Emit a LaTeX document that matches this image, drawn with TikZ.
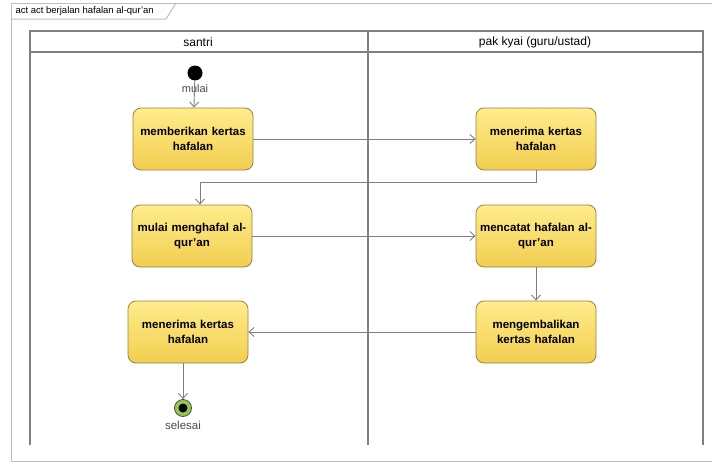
\documentclass[tikz,border=0pt]{standalone}
\usepackage{fontspec}
\setmainfont{Liberation Sans}
\usetikzlibrary{arrows.meta}
\definecolor{garis}{RGB}{128,128,128}
\definecolor{bingkai}{RGB}{190,190,190}
\definecolor{aktline}{RGB}{150,130,70}
\definecolor{akttop}{RGB}{255,236,140}
\definecolor{aktbot}{RGB}{242,206,80}
\definecolor{hijau}{RGB}{150,200,80}

\begin{document}
\begin{tikzpicture}[x=1pt, y=-1pt,
    act/.style={draw=aktline, line width=0.8pt, rounded corners=8pt,
      top color=akttop, bottom color=aktbot, minimum width=120pt,
      minimum height=62pt, text width=118pt, inner xsep=1pt, align=center,
      font=\fontsize{11.5}{15}\selectfont\bfseries},
    flow/.style={draw=garis, line width=0.9pt, -{Straight Barb[length=5pt,width=9pt]}},
    lane/.style={draw=garis, line width=1.2pt}]
    \useasboundingbox (0,0) rectangle (712,463);
    \draw[bingkai, line width=1pt] (712,461) -- (11,461) -- (11,3) -- (712,3);
    \draw[bingkai, line width=1pt] (11,19) -- (166,19) -- (176,3);
    \node[anchor=west, font=\fontsize{9.5}{10}\selectfont] (judul) at (12,11) {act act berjalan hafalan al-qur'an};
    \draw[lane] (30,445) -- (30,31) -- (703,31) -- (703,445);
    \draw[lane] (30,52) -- (703,52);
    \draw[lane] (368,31) -- (368,445);
    \node[font=\fontsize{12}{13}\selectfont] (santri) at (198,42) {santri};
    \node[font=\fontsize{12}{13}\selectfont] (kyai) at (535,42) {pak kyai (guru/ustad)};
    \node[circle, fill=black, minimum size=15pt, inner sep=0pt] (mulai) at (195,73) {};
    \node[font=\fontsize{11}{12}\selectfont, text=black!70] (lblmulai) at (195,89) {mulai};
    \node[act] (beri) at (193,139) {memberikan kertas\\hafalan};
    \node[act] (terima) at (536,139) {menerima kertas\\hafalan};
    \node[act] (hafal) at (192,236) {mulai menghafal al-\\qur'an};
    \node[act] (catat) at (536,236) {mencatat hafalan al-\\qur'an};
    \node[act] (kembali) at (536,332) {mengembalikan\\kertas hafalan};
    \node[act] (terimabalik) at (188,332) {menerima kertas\\hafalan};
    \node[circle, draw=black!70, line width=0.8pt, fill=hijau, minimum size=17pt, inner sep=0pt] (selesai) at (183,408) {};
    \fill[black] (selesai) circle (4.5pt);
    \node[font=\fontsize{11.5}{12}\selectfont, text=black!70] (lblselesai) at (183,425) {selesai};
    \draw[flow] (mulai) -- (beri);
    \draw[flow] (beri) -- (terima);
    \draw[flow] (terima.south) -- ++(0,12) -| ([xshift=8pt]hafal.north);
    \draw[flow] (hafal) -- (catat);
    \draw[flow] (catat) -- (kembali);
    \draw[flow] (kembali) -- (terimabalik);
    \draw[flow] (selesai |- terimabalik.south) -- (selesai);
  \end{tikzpicture}
\end{document}
